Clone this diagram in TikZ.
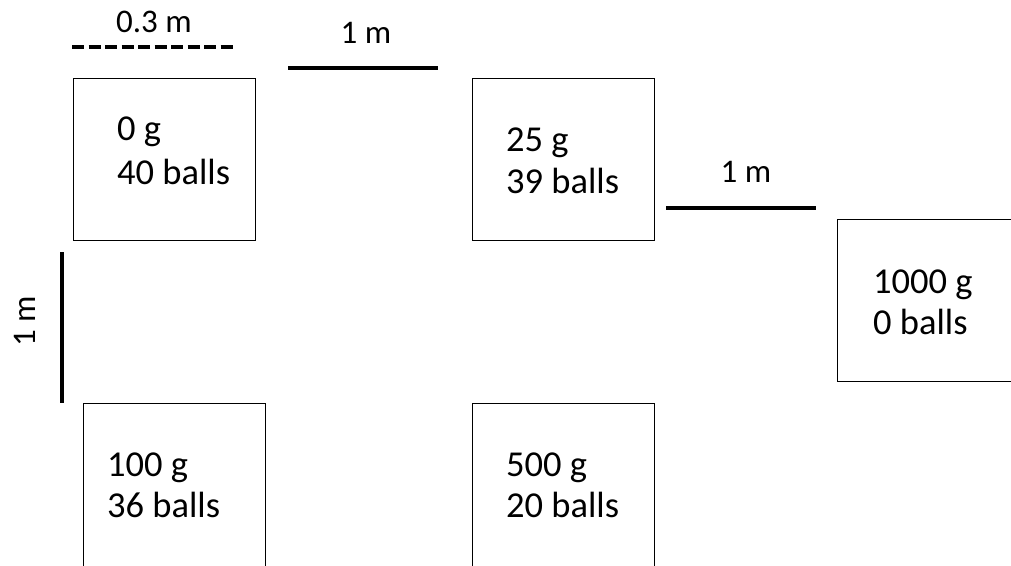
\documentclass[tikz,border=0pt]{standalone}
\usepackage{fontspec}
\setmainfont{Carlito}
\begin{document}
\begin{tikzpicture}[x=1pt,y=-1pt,
  box/.style={draw=black,line width=1.4pt,fill=none,inner sep=0pt,minimum width=182pt,minimum height=162pt,anchor=north west},
  txt/.style={inner sep=0pt,anchor=base west,font=\fontsize{36.5}{43}\selectfont},
  lbl/.style={inner sep=0pt,font=\fontsize{33}{39}\selectfont},
  scalebar/.style={line width=4pt}]
\useasboundingbox (0,0) rectangle (1011,565);
\clip (0,0) rectangle (1011,565);
% boxes
\node[box] (b1) at (73,78) {};
\node[box] (b2) at (471.5,78) {};
\node[box] (b3) at (837,219) {};
\node[box,minimum height=175pt] (b4) at (83,403) {};
\node[box,minimum height=175pt] (b5) at (472,403) {};
% texts
\node[txt] (t1a) at (117,140.7) {0 g};
\node[txt] (t1b) at (117,184) {40 balls};
\node[txt] (t2a) at (506,151.5) {25 g};
\node[txt] (t2b) at (506,193) {39 balls};
\node[txt] (t3a) at (873,293) {1000 g};
\node[txt] (t3b) at (873,334) {0 balls};
\node[txt] (t4a) at (107,476) {100 g};
\node[txt] (t4b) at (107,517) {36 balls};
\node[txt] (t5a) at (506,476) {500 g};
\node[txt] (t5b) at (506,517) {20 balls};
% scale bars
\coordinate (d1) at (72,47);
\coordinate (d2) at (234,47);
\draw[scalebar,dash pattern=on 12pt off 4.5pt] (d1) -- (d2);
\node[lbl] (l1) at (154,22) {0.3 m};
\coordinate (s1) at (288,68.3);
\coordinate (s2) at (438,68.3);
\draw[scalebar] (s1) -- (s2);
\node[lbl] (l2) at (366,33) {1 m};
\coordinate (r1) at (666,208.3);
\coordinate (r2) at (816,208.3);
\draw[scalebar] (r1) -- (r2);
\node[lbl] (l3) at (746,171.5) {1 m};
\coordinate (v1) at (61.7,252);
\coordinate (v2) at (61.7,403);
\draw[scalebar] (v1) -- (v2);
\node[lbl,rotate=90] (l4) at (25,321) {1 m};
\end{tikzpicture}
\end{document}
